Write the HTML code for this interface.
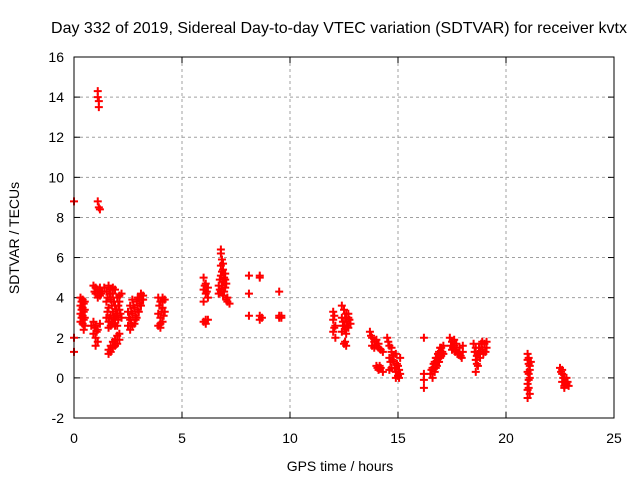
<!DOCTYPE html>
<html><head><meta charset="utf-8"><style>
body{margin:0;background:#fff}
svg text{font-family:"Liberation Sans",sans-serif;font-size:14px;fill:#000}
</style></head><body>
<svg id="c" width="640" height="480">
<rect width="640" height="480" fill="#fff"/>
<text x="339" y="33" text-anchor="middle" style="font-size:16px">Day 332 of 2019, Sidereal Day-to-day VTEC variation (SDTVAR) for receiver kvtx</text>
<text x="340" y="471" text-anchor="middle">GPS time / hours</text>
<text transform="translate(19,238) rotate(-90)" text-anchor="middle">SDTVAR / TECUs</text>
<g id="grid"></g><g id="ticks"></g><g id="pts"></g>
<rect x="74" y="57" width="540" height="361" fill="none" stroke="#000" stroke-width="1"/>
</svg>
<script>
const xTicks=[0,5,10,15,20,25];
const yTicks=[-2,0,2,4,6,8,10,12,14,16];
const points=[
[0,8.8],[0,2.0],[0,1.3],
[0.3,4.0],[0.3,3.6],[0.3,3.2],[0.3,2.8],[0.4,3.9],[0.4,3.5],[0.4,3.1],[0.4,2.7],[0.5,3.8],[0.5,3.4],[0.5,3.0],[0.5,2.6],[0.45,2.4],
[0.35,3.8],[0.35,3.4],[0.35,3.0],[0.45,3.7],[0.45,3.3],[0.45,2.9],
[1.1,14.3],[1.1,14.0],[1.15,13.8],[1.15,13.5],[1.1,8.8],[1.15,8.5],[1.2,8.4],
[0.9,4.6],[1.0,4.5],[1.1,4.4],[1.2,4.5],[1.3,4.3],[1.0,4.2],[1.2,4.1],[1.4,4.5],[1.1,4.0],[0.95,4.3],[1.25,4.2],
[0.9,2.8],[1.0,2.6],[1.1,2.4],[0.9,2.2],[1.0,2.0],[1.1,1.8],[0.8,2.6],[1.2,2.7],[1.0,1.6],[1.05,2.3],[0.95,2.5],
[1.5,4.3],[1.6,4.6],[1.7,4.4],[1.8,4.2],[1.9,4.4],[2.0,4.0],[2.1,3.8],[1.5,3.8],[1.6,3.5],[1.7,3.9],[1.8,3.3],[1.9,3.6],[2.0,3.2],[2.1,3.4],[1.5,3.0],[1.6,2.8],[1.7,3.1],[1.8,2.7],[1.9,2.9],[2.0,2.6],[2.2,3.0],[1.6,2.5],[1.7,4.0],[2.2,4.2],
[1.55,4.0],[1.65,4.2],[1.75,3.6],[1.85,3.8],[1.95,3.4],[2.05,3.6],[1.55,3.3],[1.65,3.0],[1.75,2.8],[1.85,3.0],[1.95,3.1],[2.05,2.9],[2.15,3.2],[2.1,4.1],[1.8,4.5],[1.7,2.6],[1.9,2.6],
[1.6,1.4],[1.7,1.6],[1.8,1.8],[1.9,1.9],[2.0,2.1],[2.1,2.2],[1.6,1.2],[1.8,1.5],[2.0,1.7],[1.7,1.3],[1.9,1.6],[2.1,1.9],
[2.5,2.6],[2.6,2.9],[2.7,3.2],[2.8,3.5],[2.9,3.8],[3.0,4.0],[3.1,4.2],[2.5,3.3],[2.6,3.6],[2.7,3.9],[2.8,2.7],[2.9,3.0],[3.0,3.3],[3.1,3.6],[3.2,3.9],[2.6,2.4],[2.7,2.6],[3.2,4.1],
[2.55,3.0],[2.65,3.3],[2.75,3.6],[2.85,3.1],[2.95,3.4],[3.05,3.7],[2.95,4.0],[3.15,3.9],[2.65,2.7],[2.85,2.9],
[3.9,4.0],[4.0,3.8],[4.1,3.5],[3.9,3.2],[4.0,3.0],[4.1,2.8],[4.2,3.3],[3.9,2.6],[4.0,2.5],[4.2,3.9],[4.1,4.0],[3.95,3.6],[4.05,3.3],[4.15,3.1],[4.0,2.7],[4.1,3.8],
[6.0,5.0],[6.1,4.7],[6.0,4.4],[6.1,4.2],[6.2,4.0],[6.0,3.8],[6.2,4.5],[6.0,2.8],[6.1,2.7],[6.2,2.9],[6.05,4.6],[6.15,4.3],[6.1,2.9],
[6.8,6.4],[6.8,6.2],[6.85,5.9],[6.8,5.6],[6.9,5.4],[6.8,5.1],[6.9,4.8],[6.7,4.6],[7.0,4.5],[6.8,4.3],[7.0,4.9],[6.9,4.1],[7.1,4.0],[7.1,3.8],[7.2,3.7],[7.0,5.2],[6.7,4.2],
[6.75,4.9],[6.85,4.6],[6.95,4.3],[6.85,5.3],[6.95,5.0],[6.75,4.4],[7.05,4.7],[6.9,5.7],[7.05,3.9],
[8.1,5.1],[8.1,4.2],[8.1,3.1],[8.6,5.1],[8.6,5.0],[8.6,3.1],[8.6,2.9],[8.7,3.0],[9.5,4.3],[9.5,3.0],[9.5,3.1],[9.6,3.0],[9.6,3.1],
[12.0,3.3],[12.0,2.9],[12.1,2.6],[12.0,2.3],[12.1,2.0],[12.05,3.1],[12.05,2.5],
[12.4,3.6],[12.5,3.4],[12.6,3.2],[12.4,3.0],[12.6,2.8],[12.5,2.6],[12.7,2.5],[12.4,2.3],[12.6,2.2],[12.8,2.7],[12.7,3.0],[12.5,1.7],[12.6,1.6],
[12.45,2.8],[12.55,3.0],[12.65,2.6],[12.75,2.9],[12.55,2.4],[12.45,2.6],[12.7,3.2],[12.55,1.8],
[13.7,2.3],[13.8,2.0],[13.9,1.8],[14.0,1.6],[14.1,1.5],[14.2,1.4],[14.3,1.3],[13.8,1.6],[14.0,1.9],[13.9,1.5],[14.1,1.7],[13.75,2.1],
[14.0,0.6],[14.1,0.4],[14.2,0.5],[14.3,0.3],[14.05,0.5],[14.15,0.6],
[14.5,2.0],[14.6,1.6],[14.7,1.3],[14.6,1.0],[14.8,0.8],[14.7,0.5],[14.9,0.3],[15.0,0.1],[14.8,1.1],[15.0,0.6],[15.1,0.2],[14.6,0.4],[14.9,0.0],[15.1,1.0],
[14.65,0.8],[14.75,0.9],[14.85,0.5],[14.95,0.7],[15.05,0.4],[14.7,1.5],[14.55,1.8],[14.9,1.2],[15.05,0.0],
[16.2,2.0],[16.2,0.2],[16.2,-0.1],[16.2,-0.5],
[16.5,0.2],[16.6,0.5],[16.7,0.8],[16.8,1.0],[16.9,1.3],[17.0,1.5],[17.1,1.6],[16.6,0.0],[16.7,0.3],[16.8,0.6],[16.9,0.8],[17.0,1.1],
[16.55,0.4],[16.65,0.7],[16.75,1.0],[16.85,1.2],[16.95,1.5],[17.05,1.3],[16.75,0.5],[16.85,0.8],[16.95,1.0],[17.1,1.2],
[17.4,2.0],[17.5,1.8],[17.6,1.6],[17.7,1.4],[17.8,1.2],[17.9,1.1],[18.0,1.3],[17.5,1.4],[17.7,1.7],[18.0,1.6],
[17.45,1.6],[17.55,1.5],[17.65,1.3],[17.75,1.2],[17.85,1.5],[17.95,1.0],[17.6,1.9],
[18.5,1.7],[18.6,1.5],[18.7,1.2],[18.6,0.9],[18.7,0.6],[18.6,0.3],[18.8,1.0],[18.9,1.4],[19.0,1.7],[19.1,1.5],[18.9,1.8],
[18.55,1.3],[18.65,1.1],[18.75,1.5],[18.85,1.7],[18.95,1.2],[19.05,1.3],[18.65,0.7],[18.8,1.3],[19.1,1.8],
[21.0,1.2],[21.0,0.9],[21.1,0.6],[21.0,0.3],[21.1,0.0],[21.0,-0.3],[21.0,-0.6],[21.0,-1.0],[21.1,0.4],
[21.05,1.0],[21.05,0.7],[21.05,0.2],[21.05,-0.1],[21.05,-0.5],[21.1,-0.8],[21.15,0.8],
[22.5,0.5],[22.6,0.2],[22.7,0.0],[22.6,-0.2],[22.8,-0.3],[22.9,-0.4],[22.7,-0.4],[22.8,0.0],
[22.55,0.3],[22.65,0.0],[22.75,-0.2],[22.85,-0.2],[22.6,0.4],[22.7,-0.5]
];
const X=t=>74+t*21.6, Y=v=>418-(v+2)*20.056;
const NS="http://www.w3.org/2000/svg";
const g=document.getElementById('grid'),tk=document.getElementById('ticks'),pg=document.getElementById('pts');
function mk(tag,at,par){const e=document.createElementNS(NS,tag);for(const k in at)e.setAttribute(k,at[k]);par.appendChild(e);return e;}
xTicks.forEach(t=>{const x=X(t);
 if(t>0&&t<25){const l=mk('line',{x1:x,y1:57,x2:x,y2:418,stroke:'#a0a0a0','stroke-dasharray':'3,3'},g);
 
 }
 mk('line',{x1:x,y1:418,x2:x,y2:412,stroke:'#000'},tk);mk('line',{x1:x,y1:57,x2:x,y2:63,stroke:'#000'},tk);
 const s=mk('text',{x:x,y:443,'text-anchor':'middle'},tk);s.textContent=t;
 
 });
yTicks.forEach(v=>{const y=Y(v);
 if(v>-2&&v<16){const l=mk('line',{x1:74,y1:y,x2:614,y2:y,stroke:'#a0a0a0','stroke-dasharray':'3,3'},g);
 
 }
 mk('line',{x1:74,y1:y,x2:80,y2:y,stroke:'#000'},tk);mk('line',{x1:614,y1:y,x2:608,y2:y,stroke:'#000'},tk);
 const s=mk('text',{x:64,y:y+5,'text-anchor':'end'},tk);s.textContent=v;
 
 });
points.forEach(p=>{const x=X(p[0]),y=Y(p[1]);
 const e=mk('path',{d:`M${x-4},${y}H${x+4}M${x},${y-4}V${y+4}`,stroke:'#f00','stroke-width':'2',fill:'none'},pg);
 
 });
</script>
</body></html>
